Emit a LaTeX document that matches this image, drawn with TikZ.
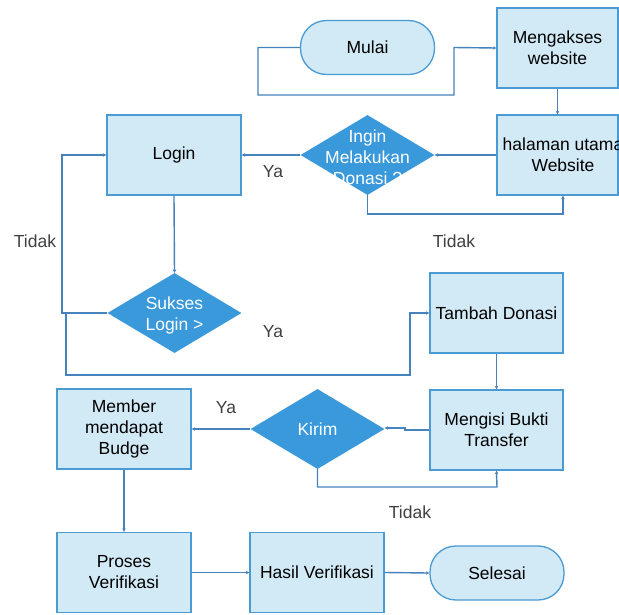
\documentclass[tikz,border=0pt]{standalone}
\usepackage{fontspec}
\setmainfont{Liberation Sans}
\usetikzlibrary{shapes.geometric,arrows.meta}
\definecolor{boxfill}{HTML}{D2EAF6}
\definecolor{boxline}{HTML}{4A9AD4}
\definecolor{decfill}{HTML}{3A99DB}
\definecolor{flowline}{HTML}{4682BE}
\definecolor{labelgray}{HTML}{404040}
\tikzset{
  txt/.style={font=\fontsize{17.5}{21}\selectfont, align=center},
  procbox/.style={txt, rectangle, draw=boxline, fill=boxfill, line width=1.3pt,
    minimum width=134pt, minimum height=80pt, inner sep=0pt},
  termbox/.style={txt, rectangle, rounded corners=26pt, draw=boxline, fill=boxfill,
    line width=1.3pt, minimum width=134pt, minimum height=54pt, inner sep=0pt},
  decbox/.style={diamond, fill=decfill, draw=none, minimum width=134pt,
    minimum height=80pt, inner sep=0pt},
  dectext/.style={txt, text=white},
  flow/.style={draw=flowline, line width=1.4pt,
    -{Stealth[length=3.5pt,width=3.5pt]}},
  branch/.style={txt, text=labelgray}
}
\begin{document}
\begin{tikzpicture}[x=1pt,y=-1pt]
\useasboundingbox[fill=white] (0,0) rectangle (619,614);

% nodes
\node[termbox] (mulai) at (367.5,47.5) {Mulai};
\node[procbox, minimum width=121pt] (akses) at (557.5,48) {Mengakses\\website};
\node[procbox, minimum width=121pt] (utama) at (557.5,155) {};
\node[txt] (utamatxt) at (563,155) {halaman utama\\Website};
\node[decbox] (ingin) at (367.5,155) {};
\node[dectext] (ingintxt) at (367.5,157) {Ingin\\Melakukan\\Donasi ?};
\node[procbox] (login) at (174,155) {Login};
\node[decbox] (sukses) at (174.5,313) {};
\node[dectext] (suksestxt) at (174.5,315) {Sukses\\Login >};
\node[procbox, minimum width=133pt] (tambah) at (496.5,313) {Tambah Donasi};
\node[procbox, minimum width=133pt] (isi) at (496.5,430) {Mengisi Bukti\\Transfer};
\node[decbox] (kirim) at (317.5,429) {};
\node[dectext] (kirimtxt) at (317.5,429) {Kirim};
\node[procbox] (member) at (124,429) {Member\\mendapat\\Budge};
\node[procbox] (proses) at (124,572.5) {Proses\\Verifikasi};
\node[procbox] (hasil) at (317,572.5) {Hasil Verifikasi};
\node[termbox] (selesai) at (497,573) {Selesai};

% bend points
\coordinate (m1) at (258,47.5);
\coordinate (m2) at (258,95);
\coordinate (m3) at (454,95);
\coordinate (m4) at (454,47.5);
\coordinate (t1) at (367.5,214);
\coordinate (t2) at (563,214);
\coordinate (s1) at (62,313);
\coordinate (s2) at (62,155);
\coordinate (y1) at (66,313);
\coordinate (y2) at (66,375);
\coordinate (y3) at (410,375);
\coordinate (y4) at (410,313);
\coordinate (k1) at (317.5,487);
\coordinate (k2) at (497,487);
\coordinate (j1) at (405,430);
\coordinate (j2) at (405,428);

% connectors
\draw[flow] (mulai.west) -- (m1) -- (m2) -- (m3) -- (m4) -- (akses.west);
\draw[flow] (akses.south) -- (utama.north);
\draw[flow] (utama.west) -- (ingin.east);
\draw[flow] (ingin.south) -- (t1) -- (t2) -- (t2 |- utama.south);
\draw[flow] (ingin.west) -- (login.east);
\draw[flow] (login.south) -- (sukses.north);
\draw[flow] (sukses.west) -- (s1) -- (s2) -- (login.west);
\draw[flow] (y1) -- (y2) -- (y3) -- (y4) -- (tambah.west);
\draw[flow] (tambah.south) -- (isi.north);
\draw[flow] (isi.west) -- (j1) -- (j2) -- (kirim.east |- j2);
\draw[flow] (kirim.west) -- (member.east);
\draw[flow] (kirim.south) -- (k1) -- (k2) -- (isi.south);
\draw[flow] (member.south) -- (proses.north);
\draw[flow] (proses.east) -- (hasil.west);
\draw[flow] (hasil.east) -- (selesai.west);

% branch labels
\node[branch] (l1) at (273,172) {Ya};
\node[branch] (l2) at (454,241) {Tidak};
\node[branch] (l3) at (35,241) {Tidak};
\node[branch] (l4) at (273,332) {Ya};
\node[branch] (l5) at (226,408) {Ya};
\node[branch] (l6) at (410,512) {Tidak};
\end{tikzpicture}
\end{document}
